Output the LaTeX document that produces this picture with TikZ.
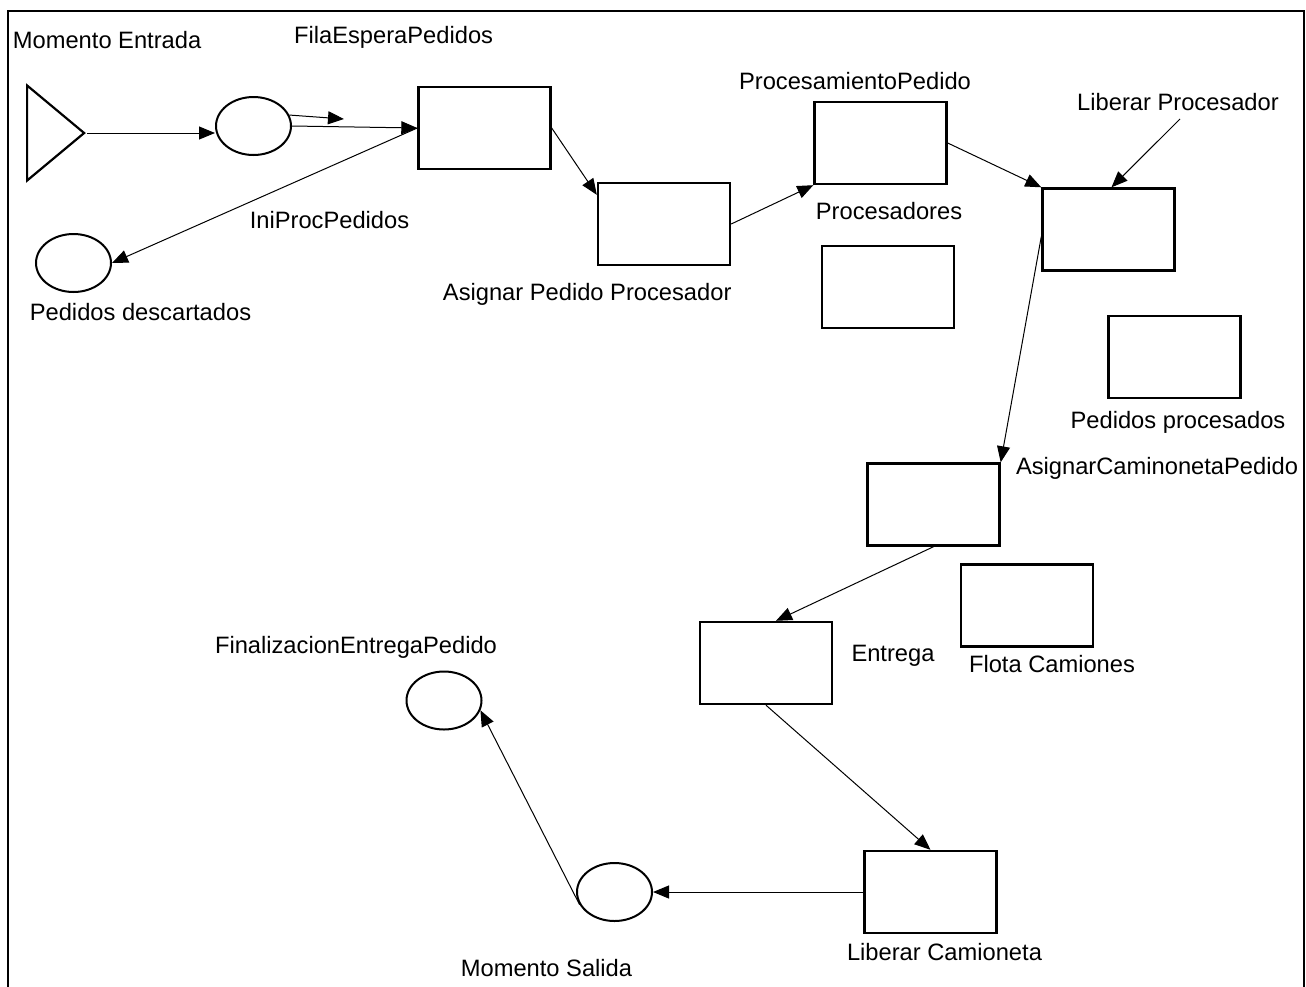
\documentclass[tikz,border=0pt]{standalone}
\usepackage{fontspec}
\setmainfont{Liberation Sans}
\usetikzlibrary{shapes.geometric,arrows.meta}
\begin{document}
\begin{tikzpicture}[x=1pt,y=-1pt,
  box/.style={draw,line width=2.4pt,minimum width=132pt,minimum height=82pt,inner sep=0pt},
  place/.style={draw,ellipse,line width=2pt,minimum width=75pt,minimum height=58pt,inner sep=0pt},
  src/.style={draw,isosceles triangle,isosceles triangle stretches,shape border rotate=0,line width=2.2pt,minimum width=95pt,minimum height=57pt,inner sep=0pt},
  lbl/.style={inner sep=0pt,anchor=base,font=\fontsize{23.7}{28}\selectfont},
  arr/.style={-{Triangle[length=16pt,width=13pt]},line width=1pt}]
\useasboundingbox (0,0) rectangle (1306,986);
\draw[line width=2pt] (8.3,995) -- (8.3,10.5) -- (1304.3,10.5) -- (1304.3,995);

% nodes
\node[src,anchor=apex] (tri) at (87,133) {};
\node[place] (fila) at (253.5,126) {};
\node[place] (descart) at (73.5,263) {};
\node[box] (iniproc) at (484.5,128) {};
\node[box] (asignar) at (664,224) {};
\node[box] (procesa) at (880.5,143) {};
\node[box] (procesadores) at (888,287) {};
\node[box] (libproc) at (1108.5,229.5) {};
\node[box] (pprocesados) at (1174.5,357) {};
\node[box] (asigcam) at (933.5,504.5) {};
\node[box] (flota) at (1027,605.5) {};
\node[box] (entrega) at (766,663) {};
\node[box] (libcam) at (930.5,892) {};
\node[place] (salida) at (614.5,892) {};
\node[place] (final) at (444,700.5) {};
\coordinate (stub) at (344,119);
\coordinate (lpstart) at (1180,119);

% labels
\node[lbl,anchor=base west] (tMomE) at (12.7,48.5) {Momento Entrada};
\node[lbl] (tFila) at (393.6,43.5) {FilaEsperaPedidos};
\node[lbl] (tIni) at (329.5,228.5) {IniProcPedidos};
\node[lbl] (tDesc) at (140.5,320.5) {Pedidos descartados};
\node[lbl] (tAsig) at (587.2,300.7) {Asignar Pedido Procesador};
\node[lbl] (tProcP) at (855,89.5) {ProcesamientoPedido};
\node[lbl] (tProcs) at (889,219.5) {Procesadores};
\node[lbl] (tLibP) at (1178,110.5) {Liberar Procesador};
\node[lbl] (tPP) at (1178,428.5) {Pedidos procesados};
\node[lbl] (tAC) at (1157,474.5) {AsignarCaminonetaPedido};
\node[lbl] (tEnt) at (893,661.5) {Entrega};
\node[lbl] (tFlota) at (1052,672.5) {Flota Camiones};
\node[lbl] (tFin) at (356,653.5) {FinalizacionEntregaPedido};
\node[lbl] (tSal) at (546.5,976.5) {Momento Salida};
\node[lbl] (tLibC) at (944.5,960.5) {Liberar Camioneta};

% connectors
\draw[arr] (tri.apex) -- (tri.apex -| fila.west);
\draw[arr] (fila.17) -- (stub);
\draw[arr] (fila.east) -- (iniproc.west);
\draw[arr] (iniproc.west) -- (descart.east);
\draw[arr] (iniproc.east) -- ([yshift=-13pt]asignar.north west);
\draw[arr] (asignar.east) -- (procesa.south west);
\draw[arr] (procesa.east) -- (libproc.north west);
\draw[arr] (lpstart) -- ([xshift=3pt]libproc.north);
\draw[arr] ([yshift=-7pt]libproc.west) -- (asigcam.north east);
\draw[arr] (asigcam.south) -- ([xshift=10pt]entrega.north);
\draw[arr] (entrega.south) -- (libcam.north);
\draw[arr] (libcam.west) -- (salida.east);
\draw[arr] (salida.200) -- (final.-15);
\end{tikzpicture}
\end{document}
